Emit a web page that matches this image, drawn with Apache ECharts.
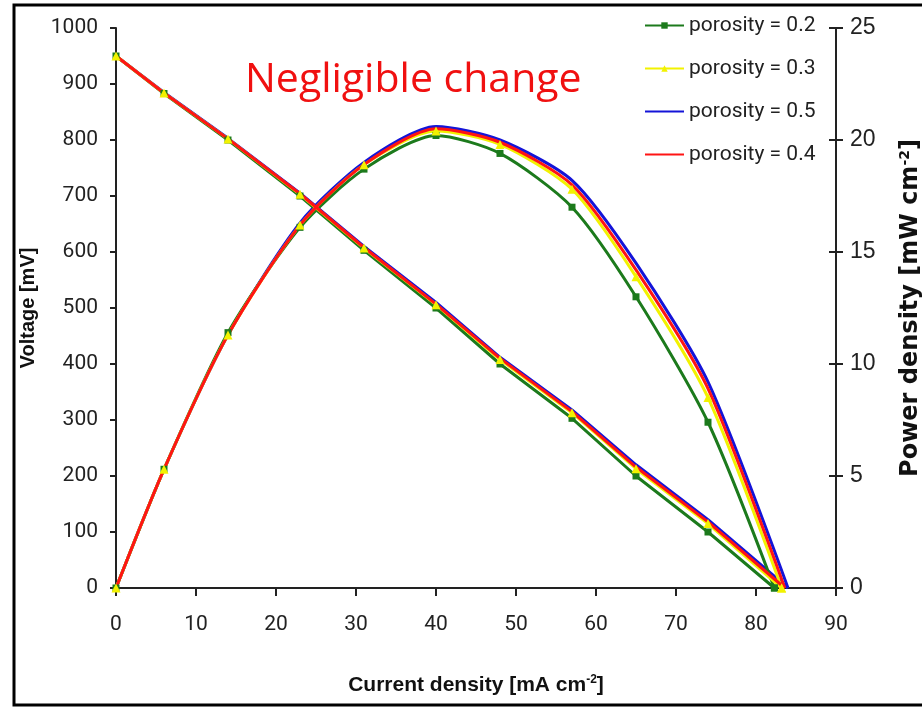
<!DOCTYPE html>
<html>
<head>
<meta charset="utf-8">
<script src="https://cdn.jsdelivr.net/npm/echarts@6/dist/echarts.min.js"></script>
<style>
  html, body { margin: 0; padding: 0; background: #fff; }
  #chart { width: 922px; height: 707px; }
</style>
</head>
<body>
<div id="chart"></div>
<script>
// current density (mA cm-2) at the marker positions, last one is where each curve hits zero
const currentP2 = [0, 6, 14, 23, 31, 40, 48, 57, 65, 74, 82.3];
const currentP3 = [0, 6, 14, 23, 31, 40, 48, 57, 65, 74, 83.2];
const currentP4 = [0, 6, 14, 23, 31, 40, 48, 57, 65, 74, 83.6];
const currentP5 = [0, 6, 14, 23, 31, 40, 48, 57, 65, 74, 84.0];

// voltage (mV)
const voltP2 = [950, 883, 800, 700, 603, 500, 400, 303, 200, 100, 0];
const voltP3 = [950, 884, 802, 703, 607, 506, 408, 313, 213, 115, 0];
const voltP4 = [950, 884, 802, 704, 608, 507, 410, 315, 216, 118, 0];
const voltP5 = [950, 885, 803, 705, 610, 510, 412, 318, 220, 122, 0];

// power density (mW cm-2)
const powerP2 = [0, 5.3, 11.4, 16.1, 18.7, 20.2, 19.4, 17.0, 13.0, 7.4, 0];
const powerP3 = [0, 5.3, 11.3, 16.2, 18.9, 20.4, 19.8, 17.8, 13.9, 8.5, 0];
const powerP4 = [0, 5.3, 11.3, 16.2, 18.9, 20.5, 19.9, 18.0, 14.2, 8.9, 0];
const powerP5 = [0, 5.3, 11.3, 16.3, 19.0, 20.6, 20.0, 18.2, 14.5, 9.2, 0];

const legendNames = ['porosity = 0.2', 'porosity = 0.3', 'porosity = 0.5', 'porosity = 0.4'];

const tickFont = 'Roboto, "Liberation Sans", sans-serif';
const boldFont = '"Liberation Sans", Arial, sans-serif';

function pairs(xs, ys) {
  return xs.map((x, i) => [x, ys[i]]);
}

const styles = {
  'porosity = 0.5': { color: '#1414d8', symbol: 'none', symbolSize: 0, cur: currentP5, v: voltP5, p: powerP5 },
  'porosity = 0.2': { color: '#1c7a1c', symbol: 'rect', symbolSize: 7, cur: currentP2, v: voltP2, p: powerP2 },
  'porosity = 0.3': { color: '#f2f200', symbol: 'triangle', symbolSize: 9, cur: currentP3, v: voltP3, p: powerP3 },
  'porosity = 0.4': { color: '#ff1414', symbol: 'none', symbolSize: 0, cur: currentP4, v: voltP4, p: powerP4 }
};

const series = [];
['porosity = 0.5', 'porosity = 0.2', 'porosity = 0.3', 'porosity = 0.4'].forEach(name => {
  const s = styles[name];
  const common = {
    name: name,
    type: 'line',
    symbol: s.symbol,
    symbolSize: s.symbolSize,
    showSymbol: s.symbol !== 'none',
    itemStyle: { color: s.color },
    lineStyle: { color: s.color, width: 3 },
    animation: false
  };
  series.push(Object.assign({}, common, { yAxisIndex: 0, data: pairs(s.cur, s.v) }));
  series.push(Object.assign({}, common, { yAxisIndex: 1, smooth: 0.25, data: pairs(s.cur, s.p) }));
});

const legendData = legendNames.map(n => {
  if (styles[n].symbol === 'none') {
    return { name: n, itemStyle: { opacity: 0 } };
  }
  return { name: n };
});

const chart = echarts.init(document.getElementById('chart'));
chart.setOption({
  backgroundColor: '#fff',
  animation: false,
  grid: { left: 116, right: 86, top: 28, bottom: 119, containLabel: false, outerBoundsMode: 'none' },
  legend: {
    data: legendData,
    orient: 'vertical',
    left: 639,
    top: 10,
    itemWidth: 39,
    itemHeight: 8,
    itemGap: 22,
    textStyle: { fontFamily: tickFont, fontSize: 21, color: '#222' }
  },
  xAxis: {
    type: 'value',
    min: 0,
    max: 90,
    interval: 10,
    name: 'Current density [mA cm{sup|-2}]',
    nameLocation: 'middle',
    nameGap: 86,
    nameTextStyle: {
      fontFamily: boldFont, fontSize: 21, fontWeight: 'bold', color: '#111',
      rich: { sup: { fontFamily: boldFont, fontSize: 12, fontWeight: 'bold', verticalAlign: 'top', padding: [0, 0, 10, 0] } }
    },
    axisLine: { lineStyle: { color: '#222', width: 2 } },
    axisTick: { length: 8, lineStyle: { color: '#222', width: 2 } },
    axisLabel: { margin: 26, fontFamily: tickFont, fontSize: 21, color: '#222' },
    splitLine: { show: false }
  },
  yAxis: [
    {
      type: 'value',
      min: 0,
      max: 1000,
      interval: 100,
      position: 'left',
      name: 'Voltage [mV]',
      nameLocation: 'middle',
      nameRotate: 90,
      nameGap: 78,
      nameTextStyle: { fontFamily: boldFont, fontSize: 20, fontWeight: 'bold', color: '#111' },
      axisLine: { show: true, lineStyle: { color: '#222', width: 2 } },
      axisTick: { show: true, length: 6, lineStyle: { color: '#222', width: 2 } },
      axisLabel: { margin: 18, fontFamily: tickFont, fontSize: 21, color: '#222', formatter: v => String(v) },
      splitLine: { show: false }
    },
    {
      type: 'value',
      min: 0,
      max: 25,
      interval: 5,
      position: 'right',
      name: 'Power density [mW cm{sup|-2}]',
      nameLocation: 'middle',
      nameRotate: 90,
      nameGap: 62,
      nameTextStyle: {
        fontFamily: '"DejaVu Sans", sans-serif', fontSize: 24, fontWeight: 'bold', color: '#111',
        rich: { sup: { fontFamily: '"DejaVu Sans", sans-serif', fontSize: 14, fontWeight: 'bold', verticalAlign: 'top', padding: [0, 0, 11, 0] } }
      },
      axisLine: { show: true, lineStyle: { color: '#222', width: 2 } },
      axisTick: { show: true, length: 7, lineStyle: { color: '#222', width: 2 } },
      axisLabel: { margin: 14, fontFamily: boldFont, fontSize: 23, color: '#222' },
      splitLine: { show: false }
    },
    {
      // inner half of the cross ticks on the right axis
      type: 'value',
      min: 0,
      max: 25,
      interval: 5,
      position: 'right',
      axisLine: { show: false },
      axisTick: { show: true, inside: true, length: 7, lineStyle: { color: '#222', width: 2 } },
      axisLabel: { show: false },
      splitLine: { show: false }
    }
  ],
  graphic: [
    {
      type: 'rect',
      shape: { x: 14, y: 5, width: 920, height: 700 },
      style: { fill: 'none', stroke: '#000', lineWidth: 3 },
      silent: true
    },
    {
      type: 'text',
      left: 245,
      top: 60,
      style: { text: 'Negligible change', fill: '#f01010', font: '41px "Open Sans", Lato, sans-serif' }
    }
  ],
  series: series
});
</script>
</body>
</html>
